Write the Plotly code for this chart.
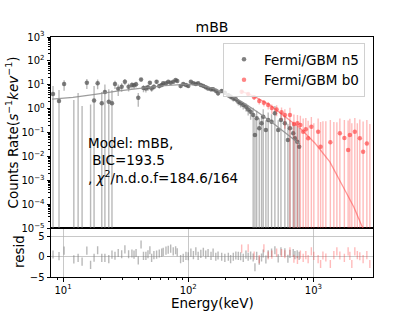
import plotly.graph_objects as go

# ---------------- data ----------------
# Fermi/GBM n5 (NaI) spectrum: energy (keV), counts rate, 1-sigma error, residual
n5_energy = [8.32, 9.29, 10.2, 12.2, 13.2, 14.2, 15.5, 16.6, 17.7, 18.9,
             20.4, 21.6, 23.2, 24.6, 26.0, 27.6, 29.4, 31.2, 33.4, 35.5,
             36.9, 38.3, 39.9, 42.0, 43.9, 45.9, 47.7, 49.4, 51.0, 53.2,
             55.9, 58.7, 61.4, 63.1, 66.4, 69.2, 72.4, 75.9, 79.3, 81.7,
             86.9, 91.2, 95.9, 100, 105, 110, 115, 120, 126, 132,
             138, 144, 152, 158, 166, 173, 185, 196, 209, 218,
             229, 240, 251, 262, 275, 289, 301, 315, 330, 341,
             352, 369, 385, 397, 417, 435, 463, 492, 523, 550,
             591, 625, 649, 689, 711, 742, 769]
n5_rate = [4.1, 2.1, 10.7, -1.0, -1.5, -0.8, 12.2, -2.0, 2.2, 11.6,
           1.7, 5.0, 1.96, 1.7, 10.7, 6.9, 8.3, 13.5, 8.3, 9.8,
           9.5, 10.5, 2.9, 16.5, 7.3, 7.1, 7.9, 12.2, 7.1, 8.3,
           13.5, 8.9, 9.8, 11.6, 11.6, 13.5, 12.2, 13.5, 15.9, 14.5,
           8.9, 10.8, 9.8, 8.9, 13.5, 11.6, 10.8, 11.6, 9.8, 8.9,
           7.85, 7.1, 6.5, 6.5, 5.7, 4.4, 5.5, 4.7, 3.7, 3.2,
           2.7, 2.5, 1.96, 1.68, 1.43, 1.21, 0.94, 0.75, 0.545, 0.079,
           0.40, 0.151, 0.245, 0.46, 0.128, 0.34, 0.286, 0.64, 0.128, 0.34,
           0.245, 0.049, 0.151, 0.094, 0.058, 0.042, 0.0257]
n5_err = [4.8, 4.0, 5.0, 3.3, 6.1, 2.1, 5.5, 3.5, 6.7, 5.0,
          3.3, 5.2, 4.5, 4.3, 4.0, 3.5, 3.2, 4.0, 3.0, 3.0,
          2.8, 2.8, 1.7, 3.0, 2.4, 2.3, 2.2, 2.4, 2.0, 2.0,
          2.3, 1.9, 1.9, 2.0, 2.0, 2.0, 1.9, 2.0, 2.1, 2.0,
          1.7, 1.8, 1.7, 1.6, 1.8, 1.7, 1.6, 1.6, 1.5, 1.4,
          1.3, 1.3, 1.2, 1.2, 1.1, 1.0, 1.0, 0.9, 0.8, 0.75,
          0.7, 0.65, 0.6, 0.55, 0.5, 0.45, 0.42, 0.4, 0.55, 0.30,
          0.42, 0.25, 0.26, 0.5, 0.2, 0.36, 0.3, 0.66, 0.2, 0.34,
          0.26, 0.18, 0.17, 0.16, 0.15, 0.14, 0.13]
n5_resid = [0.55, 0.15, 1.5, -0.65, -0.3, -1.2, 1.5, -2.0, -0.25, 1.6,
            -0.3, -0.3, -0.6, 0.5, 0.25, 0.9, 0.6, 1.8, 0.6, 0.8,
            0.5, 0.9, -0.9, 3.0, 0.2, 0.2, 0.6, 1.6, -0.3, 0.4,
            0.5, 0.8, 1.0, 1.2, 1.5, 1.7, 2.0, 1.3, 1.6, 1.1,
            -0.6, -0.3, 0.2, 0.1, 1.0, 0.4, 1.3, 0.2, 0.7, 1.2,
            0.5, 0.9, 0.2, 1.0, 0.0, 0.3, 0.0, -0.3, 0.0, -0.6,
            0.0, 0.3, 0.2, 0.1, -0.3, 0.5, 0.0, 0.3, -0.2, -2.6,
            0.2, -1.0, -0.2, 0.8, -0.7, 0.6, 1.0, 1.6, -0.4, 1.3,
            1.1, -0.5, 0.7, 0.9, 0.4, 0.6, 0.2]
n5_model_energy = [8.17, 12.0, 18.0, 27.0, 41.1, 65.0, 94.0, 124, 163, 215,
                   283, 372, 490, 645, 780]
n5_model_rate = [2.5, 3.0, 4.0, 5.5, 7.1, 9.3, 10.5, 9.8, 6.7, 3.7,
                 1.65, 0.63, 0.218, 0.072, 0.033]

# Fermi/GBM b0 (BGO) spectrum
b0_energy = [267, 301, 336, 369, 402, 435, 465, 508, 556, 591,
             649, 698, 745, 786, 828, 869, 907, 962, 1007, 1090,
             1140, 1190, 1256, 1364, 1455, 1538, 1625, 1765, 1892, 1953,
             2025, 2140, 2240, 2345, 2492, 2669, 2820]
b0_rate = [5.1, 4.1, 3.0, 2.1, 1.78, 1.43, 1.07, 0.94, 0.72, 0.545,
           0.545, 0.23, 0.245, 0.208, 0.109, 0.14, 0.058, 0.177, -0.05, 0.11,
           0.0257, -0.1, -0.05, 0.04, -0.02, -0.08, 0.094, 0.06, 0.0187, 0.079,
           -0.05, 0.109, -0.03, 0.058, 0.0159, 0.0356, -0.02]
b0_err = [0.9, 0.8, 0.7, 0.6, 0.55, 0.5, 0.45, 0.45, 0.4, 0.4,
          0.55, 0.35, 0.3, 0.3, 0.28, 0.27, 0.26, 0.27, 0.3, 0.28,
          0.25, 0.4, 0.35, 0.3, 0.3, 0.35, 0.3, 0.28, 0.3, 0.3,
          0.3, 0.3, 0.28, 0.3, 0.28, 0.3, 0.25]
b0_resid = [2.0, 2.1, 0.3, -0.6, 2.1, 0.3, 0.5, 1.0, 0.9, 0.6,
            1.3, -0.5, -0.8, 0.5, -0.3, 0.4, -0.6, 1.3, 0.2, -0.6,
            -1.8, 0.3, -0.2, -1.8, 0.4, 1.3, 0.3, -0.3, 1.3, 0.2,
            -1.8, 1.3, 0.4, 0.1, -0.6, 0.4, -1.8]
b0_model_energy = [268, 340, 449, 592, 778, 1026, 1352, 1780, 2100, 2478, 2800]
b0_model_rate = [5.3, 3.2, 1.43, 0.49, 0.158, 0.037, 0.006, 4.0e-4, 7.8e-5, 1.0e-5, 1.5e-6]

resid_err = 1.0

# tick labels
main_y_tickvals = [1e-5, 1e-4, 1e-3, 1e-2, 1e-1, 1e0, 1e1, 1e2, 1e3]
main_y_ticktext = ["10<sup>−5</sup>", "10<sup>−4</sup>", "10<sup>−3</sup>", "10<sup>−2</sup>",
                   "10<sup>−1</sup>", "10<sup>0</sup>", "10<sup>1</sup>", "10<sup>2</sup>",
                   "10<sup>3</sup>"]
x_tickvals = [10, 100, 1000]
x_ticktext = ["10<sup>1</sup>", "10<sup>2</sup>", "10<sup>3</sup>"]
resid_tickvals = [-5, 0, 5]
resid_ticktext = ["−5", "0", "5"]

title_text = "mBB"
legend_names = ["Fermi/GBM n5", "Fermi/GBM b0"]
info_lines = ["Model: mBB,", "\u00a0BIC=193.5", ", <i>χ</i><sup>2</sup>/n.d.o.f=184.6/164"]

# ---------------- layout geometry ----------------
FONT = "DejaVu Sans"
W, H = 415, 311
ML, MR, MT, MB = 51, 42, 37, 34
PW = W - ML - MR
PH = H - MT - MB
SPLIT = (H - MB - 228.3) / PH

GREY_BAR = "rgba(128,128,128,0.55)"
GREY_PT = "rgba(85,85,85,0.75)"
RED_BAR = "rgba(255,60,60,0.35)"
RED_PT = "rgba(255,50,50,0.6)"


def err_arrays(rate, err):
    ys, plus, minus = [], [], []
    for r, e in zip(rate, err):
        if r > 0:
            ys.append(r)
            plus.append(e)
            minus.append(e)  # lower end <= 0 -> bar clipped at axis bottom
        else:
            floor = 1e-9  # non-positive rate: marker hidden below the log axis
            ys.append(floor)
            plus.append(r + e - floor)
            minus.append(1.0)
    return ys, plus, minus


fig = go.Figure()

for name, en, rate, err, pt, bar in [
    (legend_names[0], n5_energy, n5_rate, n5_err, GREY_PT, GREY_BAR),
    (legend_names[1], b0_energy, b0_rate, b0_err, RED_PT, RED_BAR),
]:
    ys, plus, minus = err_arrays(rate, err)
    fig.add_trace(go.Scatter(
        x=en, y=ys, mode="markers", name=name, xaxis="x2", yaxis="y2",
        marker=dict(size=4.5, color=pt),
        error_y=dict(type="data", symmetric=False, array=plus, arrayminus=minus,
                     color=bar, thickness=1.4, width=0),
    ))

fig.add_trace(go.Scatter(x=n5_model_energy, y=n5_model_rate, mode="lines",
                         line=dict(color="rgba(140,140,140,0.85)", width=1.3),
                         xaxis="x2", yaxis="y2", showlegend=False))
fig.add_trace(go.Scatter(x=b0_model_energy, y=b0_model_rate, mode="lines",
                         line=dict(color="rgba(255,70,70,0.55)", width=1.3),
                         xaxis="x2", yaxis="y2", showlegend=False))

for en, res, bar in [(n5_energy, n5_resid, GREY_BAR), (b0_energy, b0_resid, RED_BAR)]:
    fig.add_trace(go.Scatter(
        x=en, y=res, mode="markers", showlegend=False, xaxis="x", yaxis="y",
        marker=dict(size=1, color="rgba(0,0,0,0)"),
        error_y=dict(type="constant", value=resid_err, color=bar, thickness=1.4, width=0),
    ))

xr = [0.904, 3.4755]
minor_log = [m * 10 ** k for k in range(-6, 4) for m in range(2, 10)]

axis_common = dict(showline=True, linecolor="black", linewidth=1, mirror=True,
                   ticks="outside", ticklen=3.5, tickwidth=0.8, tickcolor="black",
                   tickfont=dict(family=FONT, size=10, color="black"), zeroline=False)

fig.update_layout(
    width=W, height=H,
    margin=dict(l=ML, r=MR, t=MT, b=MB, pad=0),
    paper_bgcolor="white", plot_bgcolor="white",
    font=dict(family=FONT, color="black"),
    title=dict(text=title_text, x=(ML + PW / 2) / W, xanchor="center",
               y=1 - 27 / H, yanchor="middle", yref="container",
               font=dict(family=FONT, size=14, color="black")),
    xaxis=dict(type="log", range=xr, domain=[0, 1], anchor="y",
               tickvals=x_tickvals, ticktext=x_ticktext,
               showgrid=True, gridcolor="rgba(176,176,176,0.7)", gridwidth=1,
               minor=dict(tickvals=minor_log, ticks="outside", ticklen=2,
                          tickcolor="black", showgrid=False),
               **axis_common),
    yaxis=dict(range=[-5, 7], domain=[0, SPLIT], anchor="x",
               tickvals=resid_tickvals, ticktext=resid_ticktext,
               showgrid=True, gridcolor="rgba(176,176,176,0.7)", gridwidth=1,
               **axis_common),
    xaxis2=dict(type="log", range=xr, domain=[0, 1], anchor="y2", matches="x",
                showticklabels=False, showgrid=False,
                **{k: v for k, v in axis_common.items() if k != "ticks"}, ticks=""),
    yaxis2=dict(type="log", range=[-5, 3], domain=[SPLIT, 1], anchor="x2",
                tickvals=main_y_tickvals, ticktext=main_y_ticktext, showgrid=False,
                minor=dict(tickvals=minor_log, ticks="outside", ticklen=2,
                           tickcolor="black", showgrid=False),
                **axis_common),
    legend=dict(x=(223 - ML) / PW, y=1 - (43 - MT) / PH, xanchor="left", yanchor="top",
                bgcolor="rgba(255,255,255,0.8)", bordercolor="#d0d0d0", borderwidth=1,
                font=dict(family=FONT, size=13.5, color="black")),
    showlegend=True,
)

annotations = []
for line, cy in zip(info_lines, [143, 160, 176.5]):
    annotations.append(dict(text=line, xref="paper", yref="paper", x=(86 - ML) / PW,
                            y=(H - MB - cy) / PH, xanchor="left", yanchor="middle",
                            align="left", showarrow=False,
                            font=dict(family=FONT, size=13.5, color="black")))
annotations += [
    dict(text="Energy(keV)", xref="paper", yref="paper", x=0.5,
         y=(H - MB - 303) / PH, xanchor="center", yanchor="middle",
         showarrow=False, font=dict(family=FONT, size=13.5, color="black")),
    dict(text="Counts Rate(<i>s</i><sup>−1</sup><i>kev</i><sup>−1</sup>)", xref="paper",
         yref="paper", x=(12.5 - ML) / PW, y=(H - MB - 133) / PH, textangle=-90,
         xanchor="center", yanchor="middle", showarrow=False,
         font=dict(family=FONT, size=13.5, color="black")),
    dict(text="resid", xref="paper", yref="paper", x=(19 - ML) / PW,
         y=(H - MB - 252) / PH, textangle=-90, xanchor="center", yanchor="middle",
         showarrow=False, font=dict(family=FONT, size=13.5, color="black")),
]
fig.update_layout(annotations=annotations)

fig.write_html("out.html", config={"displayModeBar": False},
               post_script="document.body.style.margin='0';document.body.style.overflow='hidden';")
